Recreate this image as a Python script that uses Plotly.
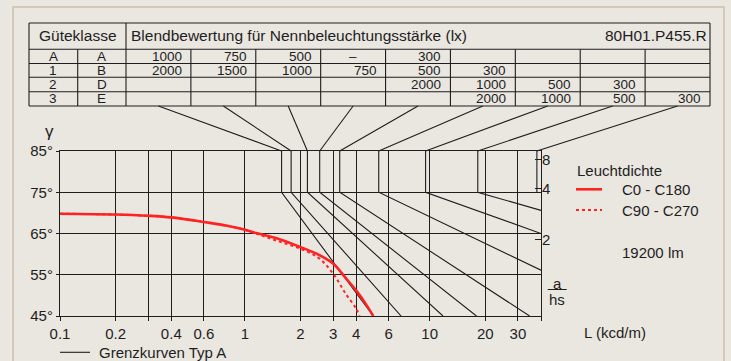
import math
import plotly.graph_objects as go

# ---------------- data ----------------
L_grid = [0.1, 0.2, 0.3, 0.4, 0.6, 1, 2, 3, 4, 6, 10, 20, 30, 40]
L_grid_labels = ["0.1", "0.2", "", "0.4", "0.6", "1", "2", "3", "4", "6", "10", "20", "30", ""]
gamma_ticks = [45, 55, 65, 75, 85]
gamma_labels = ["45°", "55°", "65°", "75°", "85°"]
ahs_ticks = [8, 4, 2]

class_left = ["A", "1", "2", "3"]
class_right = ["A", "B", "D", "E"]
row_A = ["1000", "750", "500", "–", "300", "", "", "", ""]
row_1 = ["2000", "1500", "1000", "750", "500", "300", "", "", ""]
row_2 = ["", "", "", "", "2000", "1000", "500", "300", ""]
row_3 = ["", "", "", "", "", "2000", "1000", "500", "300"]

# Grenzkurven Typ A: vertical part 85°->75° at L_top, then straight to end point
limit_L_top = [1.58, 1.78, 2.18, 2.54, 3.26, 5.3, 9.5, 18.2, 38]
limit_L_end = [4.95, 7.0, 11.8, 17.9, 34.7, 40, 40, 40, 38]
limit_g_end = [45, 45, 45, 45, 45, 56.1, 65.0, 70.6, 75]

# Leuchtdichte curves
L_c0 = [0.1, 0.2, 0.3, 0.4, 0.6, 0.8, 1.0, 1.15, 1.5, 2.0, 2.5, 3.0, 3.5, 4.0, 4.5, 4.95]
g_c0 = [69.8, 69.6, 69.3, 68.9, 67.8, 66.9, 65.9, 65.1, 63.8, 61.7, 59.9, 57.7, 54.3, 51.2, 48.0, 45.0]
L_c90 = [0.1, 0.2, 0.3, 0.4, 0.6, 0.8, 1.0, 1.15, 1.5, 2.0, 2.5, 3.0, 3.5, 4.0, 4.18]
g_c90 = [69.8, 69.6, 69.3, 68.9, 67.8, 66.9, 65.9, 65.0, 63.2, 61.3, 59.1, 55.3, 50.5, 46.8, 45.0]

# ---------------- layout geometry ----------------
W, H = 731, 361
PL, PR, PT, PB = 60, 541, 151, 316
BG = "#EAE6E0"
INK = "#1e1e1e"
RED = "#ff2222"
FONT = "Liberation Sans, Arial, sans-serif"
XMIN, XMAX = 0.1, 40


def px(x):
    return (x - PL) / (PR - PL)


def py(y):
    return (PB - y) / (PB - PT)


def lx(L):
    return (math.log10(L) - math.log10(XMIN)) / (math.log10(XMAX) - math.log10(XMIN))


fig = go.Figure()

# limit curves
for i, (lt, le, ge) in enumerate(zip(limit_L_top, limit_L_end, limit_g_end)):
    fig.add_trace(go.Scatter(
        x=[lt, lt, le], y=[85, 75, ge], mode="lines",
        line=dict(color=INK, width=1.1), showlegend=False, hoverinfo="skip",
        yaxis="y2" if i == len(limit_L_top) - 1 else "y"))

fig.add_trace(go.Scatter(x=L_c90, y=g_c90, mode="lines", line=dict(color=RED, width=2, dash="dot", shape="spline"),
                         name="C90 - C270", showlegend=False))
fig.add_trace(go.Scatter(x=L_c0, y=g_c0, mode="lines", line=dict(color=RED, width=2.6, shape="spline"),
                         name="C0 - C180", showlegend=False))

shapes = []
annotations = []


def hline(x0, x1, y, color=INK, width=1.1, dash=None):
    shapes.append(dict(type="line", xref="paper", yref="paper", x0=px(x0), x1=px(x1), y0=py(y), y1=py(y),
                       line=dict(color=color, width=width, dash=dash)))


def vline(x, y0, y1, color=INK, width=1.1):
    shapes.append(dict(type="line", xref="paper", yref="paper", x0=px(x), x1=px(x), y0=py(y0), y1=py(y1),
                       line=dict(color=color, width=width)))


def text(x, y, s, size=15, anchor="left"):
    annotations.append(dict(xref="paper", yref="paper", x=px(x), y=py(y), text=s, showarrow=False,
                            xanchor=anchor, yanchor="middle", borderpad=0,
                            font=dict(family=FONT, size=size, color=INK)))


# frame
shapes.append(dict(type="rect", xref="paper", yref="paper", x0=px(13), x1=px(724), y0=py(7), y1=py(368),
                   line=dict(color="#d4c8ba", width=2), layer="below"))

# table
TL, TC1, TC2, TR = 29, 77.7, 126, 710
TT, THB = 23, 49.3
rows_y = [49.3, 63.5, 77.3, 91.7, 106]
ncol = 9
cw = (TR - TC2) / ncol
hline(TL, TR, TT)
for y in rows_y:
    hline(TL, TR, y)
vline(TL, TT, 106)
vline(TC2, TT, 106)
vline(TR, TT, 106)
vline(TC1, THB, 106)
for c in range(1, ncol):
    vline(TC2 + c * cw, THB, 106)

text((TL + TC2) / 2, 36, "Güteklasse", 15.5, "center")
text(129.5, 36, "Blendbewertung für Nennbeleuchtungsstärke (lx)", 15.5, "left")
text(708, 36, "80H01.P455.R", 15.5, "right")
for r, (a, b, vals) in enumerate(zip(class_left, class_right, [row_A, row_1, row_2, row_3])):
    yc = (rows_y[r] + rows_y[r + 1]) / 2
    text((TL + TC1) / 2, yc, a, 13.5, "center")
    text((TC1 + TC2) / 2, yc, b, 13.5, "center")
    for c, v in enumerate(vals):
        if not v:
            continue
        if v == "–":
            text(TC2 + (c + 0.5) * cw, yc, v, 13.5, "center")
        else:
            text(TC2 + (c + 1) * cw - 8, yc, v, 13.5, "right")

# connectors from table columns to limit curves at 85°
for i, lt in enumerate(limit_L_top):
    xc = TC2 + (i + 0.5) * cw
    shapes.append(dict(type="line", xref="paper", yref="paper", x0=px(xc), y0=py(106), x1=lx(lt), y1=1,
                       line=dict(color=INK, width=1.1)))

# labels
text(49.3, 131, "γ", 17, "center")
text(576, 170, "Leuchtdichte", 15)
hline(576, 602, 189.3, RED, 2.6)
text(621, 189.3, "C0 - C180", 15)
hline(576, 602, 210, RED, 2, "dot")
text(621, 210, "C90 - C270", 15)
text(621, 252.7, "19200 lm", 15)
text(582.7, 332.7, "L (kcd/m)", 15)
hline(60, 90, 352.3, INK, 1.1)
text(97.7, 352.3, "Grenzkurven Typ A", 15)
text(557, 283, "a", 15, "center")
hline(547.7, 566.7, 289.5, INK, 1)
text(557, 299, "hs", 15, "center")

fig.update_layout(
    width=W, height=H, margin=dict(l=PL, r=W - PR, t=PT, b=H - PB, pad=0),
    paper_bgcolor=BG, plot_bgcolor=BG, showlegend=False,
    font=dict(family=FONT, size=15, color=INK),
    shapes=shapes, annotations=annotations,
    xaxis=dict(type="log", range=[math.log10(XMIN), math.log10(XMAX)], tickvals=L_grid, ticktext=L_grid_labels,
               ticks="outside", ticklen=4, tickcolor=INK, tickwidth=1.1, showgrid=True, gridcolor=INK,
               gridwidth=1.1, showline=True, mirror=True, linecolor=INK, linewidth=1.2, zeroline=False,
               tickfont=dict(size=15, color=INK), fixedrange=True, automargin=False),
    yaxis=dict(range=[45, 85], tickvals=gamma_ticks, ticktext=gamma_labels, ticks="outside", ticklen=3,
               tickcolor=INK, tickwidth=1.1, showgrid=True, gridcolor=INK, gridwidth=1.1, showline=True,
               mirror=True, linecolor=INK, linewidth=1.2, zeroline=False, tickfont=dict(size=15, color=INK),
               fixedrange=True, automargin=False),
    yaxis2=dict(range=[45, 85], overlaying="y", side="right", anchor="x",
                tickvals=[math.degrees(math.atan(v)) for v in ahs_ticks], ticktext=[str(v) for v in ahs_ticks],
                ticks="inside", ticklen=6, tickcolor=INK, tickwidth=1.1, showgrid=False, showline=False,
                zeroline=False, tickfont=dict(size=15, color=INK), fixedrange=True, automargin=False),
)

fig.write_html("out.html", config={"displayModeBar": False},
               post_script="document.body.style.margin='0px';document.body.style.overflow='hidden';")
